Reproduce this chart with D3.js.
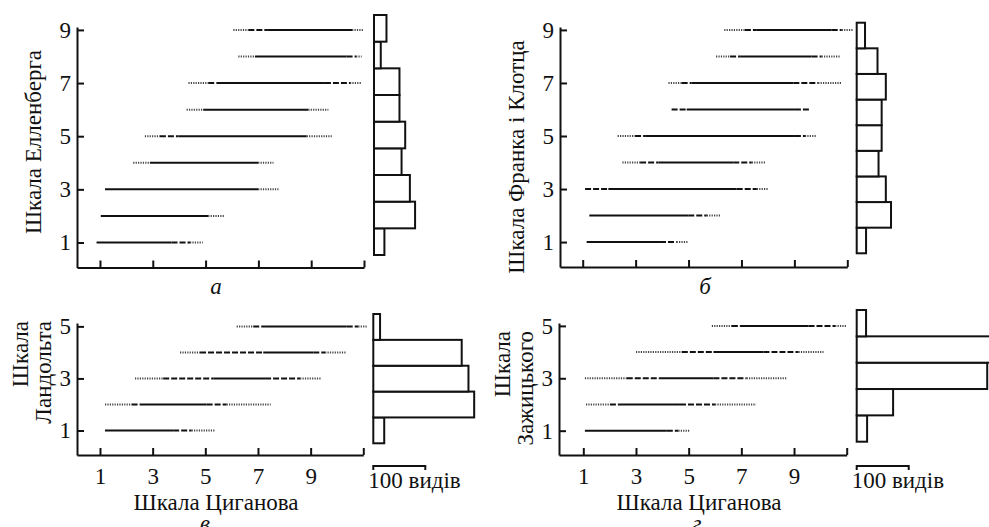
<!DOCTYPE html>
<html><head><meta charset="utf-8">
<script src="https://cdn.jsdelivr.net/npm/d3@7"></script>
<style>
html,body{margin:0;padding:0;background:#fff;overflow:hidden}
text{font-family:"Liberation Serif","Times New Roman",serif;fill:#111}
</style></head>
<body><svg id="c" width="989" height="527"></svg>
<script>
// Each range: [dotted start, dashed start, solid start, solid end, dashed end, dotted end] on Tsyganov scale
const ellenbergLevels = [1,2,3,4,5,6,7,8,9];
const ellenbergRanges = [
  [0.87,0.87,0.87,3.71,4.41,4.89],
  [1.03,1.03,1.03,5.10,5.10,5.73],
  [1.19,1.19,1.19,6.99,6.99,7.76],
  [2.26,2.89,2.89,6.99,6.99,7.57],
  [2.70,3.27,3.97,8.83,8.83,9.78],
  [4.28,4.91,4.91,8.89,8.89,9.65],
  [4.35,5.10,5.42,9.52,10.47,10.91],
  [6.24,6.87,6.87,10.34,10.70,10.91],
  [6.05,6.62,7.33,10.55,10.55,10.97]
];
const ellenbergCounts = [20,79,69,53,60,49,49,13,24];

const frankLevels = [1,2,3,4,5,6,7,8,9];
const frankRanges = [
  [1.15,1.15,1.15,3.92,4.55,4.99],
  [1.25,1.25,1.25,4.99,5.69,6.19],
  [1.09,1.09,1.97,6.82,7.58,8.02],
  [2.50,3.17,3.86,6.69,7.39,7.93],
  [2.32,2.98,3.36,9.02,9.40,9.82],
  [4.36,4.36,4.93,9.02,9.59,9.59],
  [4.24,4.74,5.12,8.96,9.90,10.79],
  [6.04,6.57,6.95,9.65,10.03,10.72],
  [6.35,7.13,7.58,10.41,10.79,11.20]
];
const frankCounts = [18,66,56,42,48,48,56,40,16];

const landoltLevels = [1,2,3,4,5];
const landoltRanges = [
  [1.19,1.19,1.19,3.78,4.48,5.37],
  [1.19,2.20,2.52,5.05,5.81,7.48],
  [2.33,3.40,5.30,7.27,8.60,9.42],
  [4.04,4.80,7.20,9.10,9.55,10.37],
  [6.19,6.82,7.27,10.37,10.81,11.13]
];
const landoltCounts = [21,194,183,170,13];

const zazhLevels = [1,2,3,4,5];
const zazhRanges = [
  [1.06,1.06,1.06,4.17,4.61,5.03],
  [1.10,2.01,2.39,4.67,6.00,7.56],
  [1.06,2.65,3.91,5.94,7.20,8.72],
  [3.00,4.74,5.94,7.84,9.17,10.12],
  [5.88,6.64,6.95,9.55,10.56,11.00]
];
const zazhCounts = [20,70,251,270,18];

const xTickValues = [1,3,5,7,9,11];
const xTickLabels = ["1","3","5","7","9",""];
const yTicksTop = [1,3,5,7,9];
const yTicksBottom = [1,3,5];
const scaleBarValue = 100;
const scaleBarLabel = "100 видів";
const xTitle = "Шкала Циганова";

const svg = d3.select("#c");
const FS = 23;

const panels = [
  {levels: ellenbergLevels, ranges: ellenbergRanges, counts: ellenbergCounts,
   xd:[0.13,11], xr:[77,364], yd:[0.059,9.11], yr:[267.5,27], yTicks: yTicksTop,
   hd:[0.5,9.5], hr:[255,15], hx:374, letter:"а", letterPos:[216,294],
   title:["Шкала Елленберга"], titlePos:[41,142], titleAnchor:"middle", showX:false},
  {levels: frankLevels, ranges: frankRanges, counts: frankCounts,
   xd:[0.142,11], xr:[560,847.3], yd:[0.06,9.11], yr:[267,27], yTicks: yTicksTop,
   hd:[0.5,9.5], hr:[253.3,22.7], hx:856.7, letter:"б", letterPos:[705,294],
   title:["Шкала Франка і Клотца"], titlePos:[524,157], titleAnchor:"middle", showX:false},
  {levels: landoltLevels, ranges: landoltRanges, counts: landoltCounts,
   xd:[0.127,11], xr:[77,363.3], yd:[0.058,5.13], yr:[455,323], yTicks: yTicksBottom,
   hd:[0.5,5.5], hr:[443.3,314], hx:373.3, letter:"в", letterPos:[205,531],
   title:["Шкала","Ландольта"], titlePos:[[28,321],[51,321]], titleAnchor:"end", showX:true, xTitleX:216},
  {levels: zazhLevels, ranges: zazhRanges, counts: zazhCounts,
   xd:[0.077,11], xr:[559,846.7], yd:[0.072,5.11], yr:[455,323], yTicks: yTicksBottom,
   hd:[0.5,5.5], hr:[441.7,310], hx:856.7, letter:"г", letterPos:[697,531],
   title:["Шкала","Зажицького"], titlePos:[[510,331],[533,331]], titleAnchor:"end", showX:true, xTitleX:699}
];

const countScale = d3.scaleLinear().domain([0, scaleBarValue]).range([0, 52]);

const segStyles = [
  {from:0,to:1,dash:"1.2,1.2",color:"#444"},
  {from:1,to:2,dash:"6,2",color:"#111"},
  {from:2,to:3,dash:null,color:"#111"},
  {from:3,to:4,dash:"6,2",color:"#111"},
  {from:4,to:5,dash:"1.2,1.2",color:"#444"}
];

panels.forEach(p => {
  const x = d3.scaleLinear().domain(p.xd).range(p.xr);
  const y = d3.scaleLinear().domain(p.yd).range(p.yr);
  const hy = d3.scaleLinear().domain(p.hd).range(p.hr);
  const g = svg.append("g");

  // range lines
  p.ranges.forEach((r, i) => {
    const lv = p.levels[i];
    segStyles.forEach(s => {
      if (r[s.to] - r[s.from] <= 0.001) return;
      g.append("line")
        .attr("x1", x(r[s.from])).attr("x2", x(r[s.to]))
        .attr("y1", y(lv)).attr("y2", y(lv))
        .attr("stroke", s.color).attr("stroke-width", 2)
        .attr("stroke-dasharray", s.dash);
    });
  });

  // axes
  const xa = d3.axisBottom(x).tickValues(xTickValues).tickSizeInner(-7).tickSizeOuter(0).tickPadding(13)
    .tickFormat((d,i) => p.showX ? xTickLabels[i] : "");
  const gx = g.append("g").attr("transform", `translate(0,${p.yr[0]})`).call(xa);
  const ya = d3.axisLeft(y).tickValues(p.yTicks).tickSizeInner(-7).tickSizeOuter(0).tickPadding(6)
    .tickFormat(d3.format("d"));
  const gy = g.append("g").attr("transform", `translate(${p.xr[0]},0)`).call(ya);
  [gx, gy].forEach(a => {
    a.selectAll("path,line").attr("stroke", "#111").attr("stroke-width", 2);
    a.selectAll("text").attr("font-size", FS).attr("font-family", "Liberation Serif").attr("fill", "#111");
  });

  // histogram
  g.selectAll("rect.h").data(p.counts).enter().append("rect")
    .attr("x", p.hx)
    .attr("y", (d,i) => hy(p.levels[i] + 0.5))
    .attr("width", d => countScale(d))
    .attr("height", (d,i) => hy(p.levels[i] - 0.5) - hy(p.levels[i] + 0.5))
    .attr("fill", "#fff").attr("stroke", "#111").attr("stroke-width", 2);

  // titles
  if (p.titleAnchor === "middle") {
    g.append("text").attr("transform", `translate(${p.titlePos[0]},${p.titlePos[1]}) rotate(-90)`)
      .attr("text-anchor", "middle").attr("font-size", FS).text(p.title[0]);
  } else {
    p.title.forEach((t, k) => {
      g.append("text").attr("transform", `translate(${p.titlePos[k][0]},${p.titlePos[k][1]}) rotate(-90)`)
        .attr("text-anchor", "end").attr("font-size", FS).text(t);
    });
  }
  g.append("text").attr("x", p.letterPos[0]).attr("y", p.letterPos[1])
    .attr("text-anchor", "middle").attr("font-style", "italic").attr("font-size", FS).text(p.letter);

  if (p.showX) {
    g.append("text").attr("x", p.xTitleX).attr("y", 510).attr("text-anchor", "middle")
      .attr("font-size", FS).text(xTitle);
    // scale bar
    const sb = g.append("g").attr("transform", `translate(${p.hx},466)`);
    sb.append("path").attr("d", `M0,4V0H${countScale(scaleBarValue)}V4`)
      .attr("fill", "none").attr("stroke", "#111").attr("stroke-width", 2);
    sb.append("text").attr("x", -5).attr("y", 22).attr("font-size", FS).text(scaleBarLabel);
  }
});
</script></body></html>
